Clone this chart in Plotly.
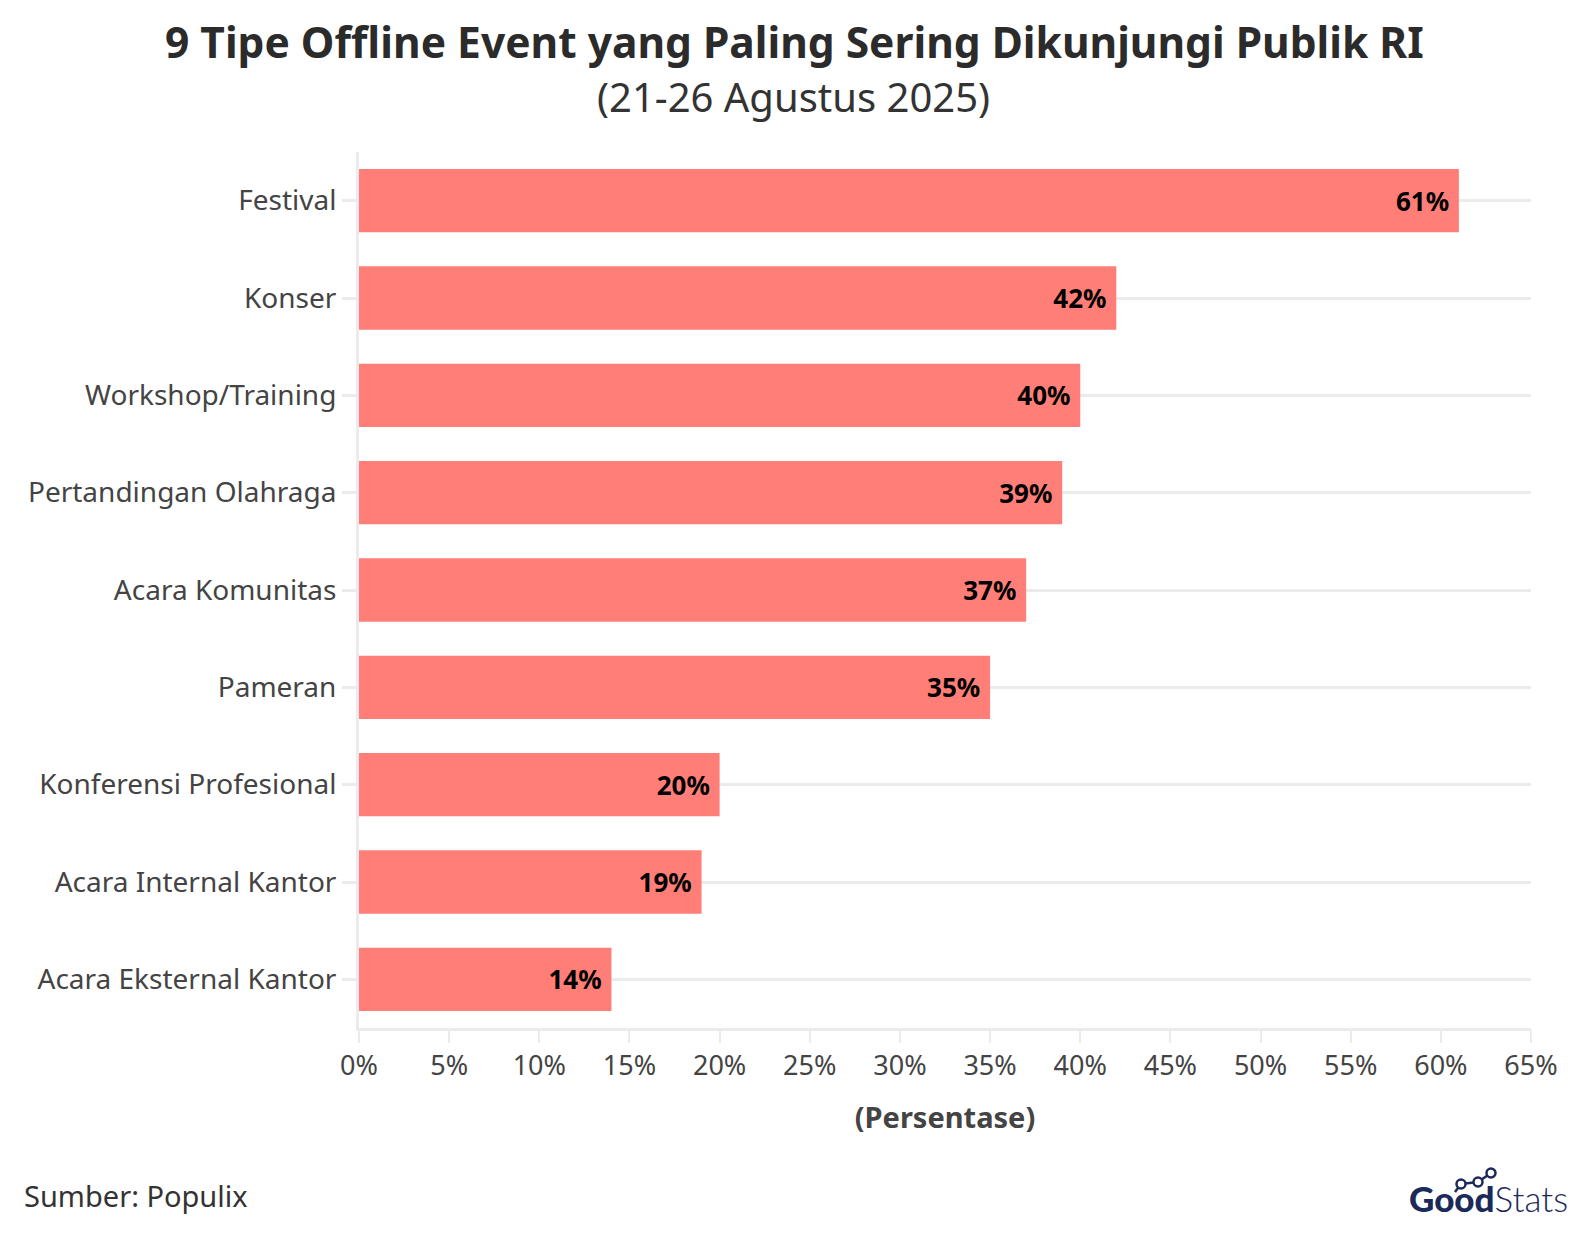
import plotly.graph_objects as go

categories = ["Festival", "Konser", "Workshop/Training", "Pertandingan Olahraga",
              "Acara Komunitas", "Pameran", "Konferensi Profesional",
              "Acara Internal Kantor", "Acara Eksternal Kantor"]
values = [61, 42, 40, 39, 37, 35, 20, 19, 14]
labels = [f"{v}%\u00a0" for v in values]
tick_vals = list(range(0, 70, 5))
tick_text = [f"{t}%" for t in tick_vals]

FONT = "Noto Sans"
GRID = "#ebebeb"
NAVY = "#1b2a5a"

# figure geometry (page body adds an 8px offset)
W, H = 1580, 1232
L, R, T, B = 351, 57, 144, 212
PW, PH = W - L - R, H - T - B


def px(X):  # page x -> paper x
    return (X - 8 - L) / PW


def py(Y):  # page y -> paper y
    return (H - B - (Y - 8)) / PH


fig = go.Figure(go.Bar(
    x=values, y=categories, orientation="h",
    marker=dict(color="#FF7F78", line=dict(width=0)),
    width=0.65,
    text=labels, textposition="inside", insidetextanchor="end",
    textfont=dict(family=FONT, size=26, color="#000000", weight="bold"),
    cliponaxis=False,
))

fig.update_layout(
    width=W, height=H,
    paper_bgcolor="white", plot_bgcolor="white",
    margin=dict(l=L, r=R, t=T, b=B, autoexpand=False),
    showlegend=False,
    font=dict(family=FONT, color="#333333"),
    bargap=0.35,
)

fig.update_xaxes(
    range=[0, 65], tickvals=tick_vals, ticktext=tick_text,
    showgrid=False, zeroline=False,
    showline=True, linecolor=GRID, linewidth=3,
    ticks="outside", ticklen=12, tickwidth=2, tickcolor=GRID,
    tickfont=dict(family=FONT, size=27, color="#444444"),
    title=dict(text="<b>(Persentase)</b>", standoff=26,
               font=dict(family=FONT, size=29, color="#444444")),
)
fig.update_yaxes(
    categoryorder="array", categoryarray=categories[::-1],
    range=[-0.5, 8.5],
    showgrid=True, gridcolor=GRID, gridwidth=2.5,
    showline=True, linecolor=GRID, linewidth=3,
    ticks="outside", ticklen=14, tickwidth=3, tickcolor=GRID,
    ticklabelstandoff=0,
    tickfont=dict(family=FONT, size=28, color="#444444"),
    zeroline=False,
)

# title & subtitle
fig.add_annotation(text="<b>9 Tipe Offline Event yang Paling Sering Dikunjungi Publik RI</b>",
                   xref="paper", yref="paper", x=px(794), y=py(41),
                   xanchor="center", yanchor="middle", showarrow=False,
                   font=dict(family=FONT, size=42.5, color="#2b2b2b"))
fig.add_annotation(text="(21-26 Agustus 2025)",
                   xref="paper", yref="paper", x=px(793), y=py(97),
                   xanchor="center", yanchor="middle", showarrow=False,
                   font=dict(family=FONT, size=40, color="#333333"))

# source
fig.add_annotation(text="Sumber: Populix", xref="paper", yref="paper",
                   x=px(22), y=py(1195), xanchor="left", yanchor="middle",
                   showarrow=False, font=dict(family=FONT, size=29, color="#333333"))

# GoodStats logo
fig.add_annotation(text="<span style='font-weight:900'>Good</span><span style='font-weight:300'>Stats</span>",
                   xref="paper", yref="paper", x=px(1570), y=py(1198),
                   xanchor="right", yanchor="middle", showarrow=False,
                   font=dict(family="Lato", size=35, color=NAVY))
pts = [(1455, 1192), (1461, 1184), (1478, 1182), (1491, 1173)]
for (x0, y0), (x1, y1) in zip(pts[:-1], pts[1:]):
    fig.add_shape(type="line", xref="paper", yref="paper",
                  x0=px(x0), y0=py(y0), x1=px(x1), y1=py(y1),
                  line=dict(color=NAVY, width=2.5))
for (cx, cy) in pts[1:]:
    fig.add_shape(type="circle", xref="paper", yref="paper",
                  x0=px(cx - 4.5), x1=px(cx + 4.5), y0=py(cy - 4.5), y1=py(cy + 4.5),
                  line=dict(color=NAVY, width=2.5), fillcolor="white")

fig.write_html("out.html")
